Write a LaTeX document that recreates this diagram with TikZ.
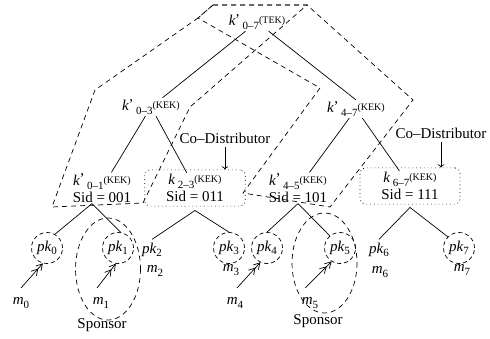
\documentclass[tikz,border=0pt]{standalone}
\usepackage{fontspec}
\setmainfont{Liberation Serif}
\usepackage{tikz}
\usetikzlibrary{shapes,arrows.meta,positioning,fit,calc}

\newcommand{\kp}{\kern-0.5pt\raisebox{0.2ex}{’}}
\newcommand{\keylbl}[3]{\textit{k}#1\,\raisebox{-0.6ex}{\fontsize{11}{11}\selectfont #2}\raisebox{0.25ex}{\fontsize{10}{10}\selectfont (#3)}}
\newcommand{\pklbl}[1]{\textit{pk}\raisebox{-0.5ex}{\fontsize{11}{11}\selectfont #1}}
\newcommand{\mlbl}[1]{\textit{m}\raisebox{-0.5ex}{\fontsize{11}{11}\selectfont #1}}

\begin{document}
\begin{tikzpicture}[x=1pt,y=-1pt,font=\fontsize{15}{17}\selectfont,line width=0.7pt,
  keynode/.style={inner sep=1pt,align=center},
  keybox/.style={draw,dash pattern=on 0.8pt off 3pt,rounded corners=5pt,inner xsep=20pt,inner ysep=3pt},
  leaf/.style={circle,draw,dash pattern=on 4pt off 3pt,minimum size=31pt,inner sep=0pt},
  group/.style={dash pattern=on 5pt off 4pt},
  feed/.style={-{Straight Barb[length=6pt,width=7pt]Straight Barb[length=6pt,width=7pt]}}]
  \useasboundingbox (0,0) rectangle (490,339);

  % key tree
  \node[keynode] (k07) at (257,22) {\keylbl{\kp}{0–7}{TEK}};
  \node[keynode] (k03) at (151,107) {\keylbl{\kp}{0–3}{KEK}};
  \node[keynode] (k47) at (356,109) {\keylbl{\kp}{4–7}{KEK}};
  \node[keynode] (k01) at (102,188) {\keylbl{\kp}{0–1}{KEK}\\Sid = 001};
  \node[keynode] (k23) at (195,188) {\keylbl{}{2–3}{KEK}\\Sid = 011};
  \node[keynode] (k45) at (298,188) {\keylbl{\kp}{4–5}{KEK}\\Sid = 101};
  \node[keynode] (k67) at (410,186) {\keylbl{}{6–7}{KEK}\\Sid = 111};
  \node[keybox,fit=(k23)] (box23) {};
  \node[keybox,fit=(k67)] (box67) {};

  \node (cd23) at (225,138) {Co–Distributor};
  \node (cd67) at (441,133) {Co–Distributor};
  \draw[->] (cd23.south) -- (cd23.south |- box23.north);
  \draw[->] (cd67.south) -- (cd67.south |- box67.north);

  % leaves
  \node[leaf] (pk0) at (47,248) {\pklbl{0}};
  \node[leaf] (pk1) at (118,248) {\pklbl{1}};
  \node (pk2) at (152,250) {\pklbl{2}};
  \node[leaf] (pk3) at (229,248) {\pklbl{3}};
  \node[leaf] (pk4) at (267,248) {\pklbl{4}};
  \node[leaf] (pk5) at (340,248) {\pklbl{5}};
  \node (pk6) at (379,250) {\pklbl{6}};
  \node[leaf] (pk7) at (459,248) {\pklbl{7}};

  \node (m0) at (21,303) {\mlbl{0}};
  \node (m1) at (101,303) {\mlbl{1}};
  \node (m2) at (155,271) {\mlbl{2}};
  \node (m3) at (231,270) {\mlbl{3}};
  \node (m4) at (235,303) {\mlbl{4}};
  \node (m5) at (310,303) {\mlbl{5}};
  \node (m6) at (380,272) {\mlbl{6}};
  \node (m7) at (462,270) {\mlbl{7}};

  \draw (k07) -- (k03);
  \draw (k07) -- (k47.north);
  \draw (k03) -- (k01);
  \draw (k03) -- (k23);
  \draw (k47) -- (k45);
  \draw (k47) -- (k67);
  \draw ([xshift=-10pt]k01.south) -- (pk0.60);
  \draw ([xshift=-10pt]k01.south) -- (pk1.80);
  \draw ([yshift=-4pt]box23.south) -- (pk2.north);
  \draw ([yshift=-4pt]box23.south) -- (pk3.north);
  \draw (k45.south) -- (pk4.north);
  \draw (k45.south) -- (pk5.130);
  \draw ([yshift=-3pt]box67.south) -- (pk6.north);
  \draw ([yshift=-3pt]box67.south) -- (pk7.135);

  \draw[feed] ([yshift=15pt]m0.center) -- (pk0.255);
  \draw[feed] ([xshift=-4pt,yshift=15pt]m1.center) -- (pk1.262);
  \draw[feed] ([xshift=2pt,yshift=15pt]m4.center) -- (pk4.245);
  \draw[feed] ([xshift=-5pt,yshift=15pt]m5.center) -- (pk5.238);

  % groups
  \draw[group] (213,5) -- (307,5) -- (190,107) -- (143,203) -- (52,207)
    -- (95,90) -- (198,18) -- cycle;
  \draw[group] (213,5) -- (307,5) -- (413,100) -- (330,207) -- (243,193)
    -- (320,88) -- (198,18) -- cycle;
  \draw[group] (108,269) ellipse [x radius=32.5, y radius=51];
  \draw[group] (324.5,263) ellipse [x radius=32.5, y radius=50];
  \node (sp1) at (102,325) {Sponsor};
  \node (sp5) at (318,321) {Sponsor};
\end{tikzpicture}
\end{document}
